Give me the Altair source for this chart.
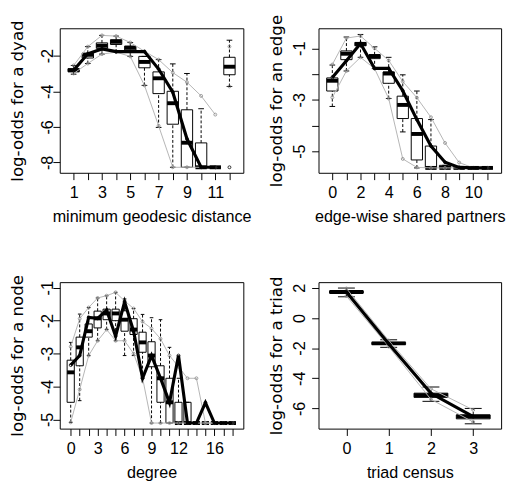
import json
import altair as alt
import pandas as pd

# ---------------- Panel 1: minimum geodesic distance ----------------
geo_x   = [1, 2, 3, 4, 5, 6, 7, 8, 9, 10, 11, 12]
geo_grp = ["a"] * 11 + ["nr"]
geo_q1  = [-2.90, -2.13, -1.59, -1.37, -1.71, -2.68, -4.13, -5.85, -8.27, -8.27, -8.27, -3.07]
geo_med = [-2.82, -1.95, -1.44, -1.22, -1.56, -2.35, -3.27, -4.67, -6.89, -8.27, -8.27, -2.62]
geo_q3  = [-2.73, -1.86, -1.28, -1.10, -1.46, -2.04, -2.91, -4.00, -5.04, -6.90, -8.27, -2.09]
geo_wlo = [-3.04, -2.44, -1.91, -1.80, -2.04, -3.67, -6.03, -8.27, -8.27, -8.27, -8.27, -3.73]
geo_whi = [-2.55, -1.49, -0.86, -0.90, -1.26, -2.04, -2.22, -2.46, -3.00, -4.98, -8.27, -1.13]
geo_glo = [-3.00, -2.44, -1.91, -1.80, -2.04, -3.67, -5.94, -8.27, -8.27, -8.27, -8.27, -3.73]
geo_ghi = [-2.55, -1.49, -0.86, -0.90, -1.26, -1.75, -2.22, -2.95, -3.49, -4.26, -5.31, -1.49]
geo_obs = [-2.82, -1.89, -1.62, -1.77, -1.77, -1.77, -2.75, -4.05, -6.67, -8.27, -8.27, -8.27]

# ---------------- Panel 2: edge-wise shared partners ----------------
esp_x   = [0, 1, 2, 3, 4, 5, 6, 7, 8, 9, 10, 11]
esp_q1  = [-2.66, -1.44, -0.90, -1.40, -2.36, -3.73, -5.34, -5.65, -5.65, -5.65, -5.65, -5.65]
esp_med = [-2.26, -1.21, -0.83, -1.30, -1.98, -3.20, -4.33, -5.65, -5.65, -5.65, -5.65, -5.65]
esp_q3  = [-2.15, -1.10, -0.77, -1.25, -1.92, -2.86, -3.73, -4.80, -5.55, -5.65, -5.65, -5.65]
esp_wlo = [-3.26, -1.88, -1.35, -1.79, -2.95, -4.25, -5.65, -5.65, -5.65, -5.65, -5.65, -5.65]
esp_whi = [-1.65, -0.56, -0.46, -0.94, -1.35, -2.03, -2.66, -3.77, -5.55, -5.65, -5.65, -5.65]
esp_glo = [-2.91, -1.88, -1.35, -1.79, -2.95, -5.30, -5.63, -5.65, -5.65, -5.65, -5.65, -5.65]
esp_ghi = [-1.63, -0.60, -0.52, -1.00, -1.47, -2.29, -2.92, -3.68, -4.68, -5.44, -5.65, -5.65]
esp_obs = [-2.13, -1.48, -0.81, -1.78, -1.78, -2.65, -3.77, -4.80, -5.43, -5.63, -5.65, -5.65]

# ---------------- Panel 3: degree ----------------
deg_x   = list(range(19))
deg_q1  = [-4.48, -3.37, -2.50, -2.22, -1.97, -2.00, -2.32, -2.42, -2.96, -3.40, -4.48, -5.11, -5.11, -5.11, -5.11, -5.11, -5.11, -5.11, -5.11]
deg_med = [-3.57, -2.81, -2.32, -1.93, -1.78, -1.78, -1.97, -2.27, -2.66, -3.06, -3.75, -4.48, -5.11, -5.11, -5.11, -5.11, -5.11, -5.11, -5.11]
deg_q3  = [-3.20, -2.50, -2.10, -1.71, -1.65, -1.65, -1.70, -1.94, -2.35, -2.64, -3.37, -3.75, -4.48, -4.48, -5.11, -5.11, -5.11, -5.11, -5.11]
deg_wlo = [-5.09, -4.43, -3.06, -2.61, -2.27, -2.61, -3.06, -3.06, -3.75, -5.11, -5.11, -5.11, -5.11, -5.11, -5.11, -5.11, -5.11, -5.11, -5.11]
deg_whi = [-2.66, -1.80, -1.60, -1.31, -1.24, -1.14, -1.34, -1.63, -1.81, -1.91, -1.97, -2.81, -3.75, -4.48, -5.11, -5.11, -5.11, -5.11, -5.11]
deg_glo = [-5.09, -4.09, -3.06, -2.61, -2.27, -2.61, -2.61, -3.00, -3.74, -5.11, -5.11, -5.11, -5.11, -5.11, -5.11, -5.11, -5.11, -5.11, -5.11]
deg_ghi = [-2.79, -1.94, -1.60, -1.31, -1.24, -1.14, -1.40, -1.63, -2.03, -2.24, -2.55, -3.06, -3.40, -3.75, -3.75, -5.11, -5.11, -5.11, -5.11]
deg_obs = [-3.35, -3.06, -1.90, -1.93, -1.68, -2.47, -1.43, -2.32, -3.75, -3.06, -3.75, -4.49, -3.06, -5.11, -5.11, -4.49, -5.11, -5.11, -5.11]

# ---------------- Panel 4: triad census ----------------
tri_x   = [0, 1, 2, 3]
tri_q1  = [1.65, -1.76, -5.27, -6.69]
tri_med = [1.72, -1.69, -5.12, -6.54]
tri_q3  = [1.78, -1.62, -4.99, -6.43]
tri_wlo = [1.40, -1.95, -5.53, -7.02]
tri_whi = [1.98, -1.45, -4.58, -6.00]
tri_glo = [1.45, -1.90, -5.40, -6.90]
tri_ghi = [1.95, -1.50, -4.70, -6.10]
tri_obs = [1.72, -1.72, -5.00, -6.54]

LABEL_FONT = "Liberation Sans"
YTITLE_FONT = "DejaVu Sans"
GREY = "#b4b4b4"


def label_expr(shown):
    return f"indexof({json.dumps(shown)}, datum.value) >= 0 ? '' + datum.value : ''"


def panel(x, grp, q1, med, q3, wlo, whi, glo, ghi, obs,
          xdom, ydom, xticks, xshown, yticks, yshown,
          xtitle, ytitle, w, h, ylabpad):
    df = pd.DataFrame(dict(x=x, grp=grp, q1=q1, med=med, q3=q3, lo=wlo, hi=whi,
                           glo=glo, ghi=ghi, obs=obs))
    xaxis = alt.Axis(values=xticks, labelExpr=label_expr(xshown), title=xtitle,
                     grid=False, domain=False, ticks=True, tickSize=7, tickColor="black",
                     labelFont=LABEL_FONT, labelFontSize=16.5, labelColor="black",
                     labelBaseline="alphabetic", labelPadding=18, labelFlush=False,
                     labelOverlap=False,
                     titleFont=LABEL_FONT, titleFontSize=16.5, titleFontWeight="normal",
                     titleColor="black", titleBaseline="alphabetic", titleY=50,
                     titleX=w / 2, titleAlign="center")
    yaxis = alt.Axis(values=yticks, labelExpr=label_expr(yshown), title=ytitle,
                     grid=False, domain=False, ticks=True, tickSize=7, tickColor="black",
                     labelFont=LABEL_FONT, labelFontSize=16.5, labelColor="black",
                     labelAngle=270, labelAlign="center", labelBaseline="alphabetic",
                     labelPadding=ylabpad, labelFlush=False, labelOverlap=False,
                     titleFont=YTITLE_FONT, titleFontSize=17, titleFontWeight="normal",
                     titleColor="black", titleAngle=270, titleBaseline="alphabetic",
                     titleAlign="center", titleX=-38, titleY=h / 2)
    xs = alt.Scale(domain=xdom, nice=False, zero=False)
    ys = alt.Scale(domain=ydom, nice=False, zero=False)

    def X(f):
        return alt.X(f, type="quantitative", scale=xs, axis=xaxis)

    def Y(f):
        return alt.Y(f, type="quantitative", scale=ys, axis=yaxis)

    base = alt.Chart(df).transform_calculate(
        xl="datum.x - 0.4", xr="datum.x + 0.4",
        cl="datum.x - 0.2", cr="datum.x + 0.2")

    box = base.mark_rect(fillOpacity=0, stroke="black", strokeWidth=1).encode(
        x=X("xl"), x2="xr", y=Y("q1"), y2="q3")
    wh_up = base.mark_rule(color="black", strokeWidth=1, strokeDash=[3, 2]).encode(
        x=X("x"), y=Y("q3"), y2="hi")
    wh_dn = base.mark_rule(color="black", strokeWidth=1, strokeDash=[3, 2]).encode(
        x=X("x"), y=Y("lo"), y2="q1")
    cap_up = base.mark_rule(color="black", strokeWidth=1).encode(
        x=X("cl"), x2="cr", y=Y("hi"))
    cap_dn = base.mark_rule(color="black", strokeWidth=1).encode(
        x=X("cl"), x2="cr", y=Y("lo"))
    median = base.mark_rule(color="black", strokeWidth=4).encode(
        x=X("xl"), x2="xr", y=Y("med"))
    g_lo = base.mark_line(color=GREY, strokeWidth=1).encode(
        x=X("x"), y=Y("glo"), detail="grp:N")
    g_hi = base.mark_line(color=GREY, strokeWidth=1).encode(
        x=X("x"), y=Y("ghi"), detail="grp:N")
    gp_lo = base.mark_point(shape="circle", size=9, filled=False, color="#888888",
                            strokeWidth=0.8, opacity=1).encode(x=X("x"), y=Y("glo"))
    gp_hi = base.mark_point(shape="circle", size=9, filled=False, color="#888888",
                            strokeWidth=0.8, opacity=1).encode(x=X("x"), y=Y("ghi"))
    ob_line = base.mark_line(color="black", strokeWidth=3.2).encode(
        x=X("x"), y=Y("obs"), detail="grp:N")
    ob_pt = base.mark_point(shape="circle", size=9, filled=False, color="black",
                            strokeWidth=0.8, opacity=1).encode(x=X("x"), y=Y("obs"))
    return alt.layer(box, wh_up, wh_dn, cap_up, cap_dn, median,
                     g_lo, g_hi, gp_lo, gp_hi, ob_line, ob_pt).properties(width=w, height=h)


p1 = panel(geo_x, geo_grp, geo_q1, geo_med, geo_q3, geo_wlo, geo_whi, geo_glo, geo_ghi, geo_obs,
           [0.02, 12.98], [-8.58, -0.46], geo_x, [1, 3, 5, 7, 9, 11],
           [-2, -4, -6, -8], [-2, -4, -6, -8],
           "minimum geodesic distance", "log-odds for a dyad", 188, 148, 0)
p2 = panel(esp_x, ["a"] * len(esp_x), esp_q1, esp_med, esp_q3, esp_wlo, esp_whi, esp_glo, esp_ghi, esp_obs,
           [-0.98, 11.98], [-5.84, -0.22], esp_x, [0, 2, 4, 6, 8, 10],
           [-1, -2, -3, -4, -5], [-1, -3, -5],
           "edge-wise shared partners", "log-odds for an edge", 187, 148, 7)
p3 = panel(deg_x, ["a"] * len(deg_x), deg_q1, deg_med, deg_q3, deg_wlo, deg_whi, deg_glo, deg_ghi, deg_obs,
           [-1.22, 19.22], [-5.28, -0.83], deg_x, [0, 3, 6, 9, 12, 16],
           [-1, -2, -3, -4, -5], [-1, -2, -3, -4, -5],
           "degree", "log-odds for a node", 188, 150, 0)
p4 = panel(tri_x, ["a"] * len(tri_x), tri_q1, tri_med, tri_q3, tri_wlo, tri_whi, tri_glo, tri_ghi, tri_obs,
           [-0.66, 3.66], [-7.34, 2.37], tri_x, tri_x,
           [2, 0, -2, -4, -6], [2, 0, -2, -4, -6],
           "triad census", "log-odds for a triad", 187, 150, 7)

chart = alt.concat(p1, p2, p3, p4, columns=2,
                   spacing={"row": 112, "column": 77}, bounds="flush").properties(
    padding=0, background="white"
).configure_view(stroke="black", strokeWidth=1)

chart.save("out.html", embed_options={"renderer": "svg", "actions": False})
